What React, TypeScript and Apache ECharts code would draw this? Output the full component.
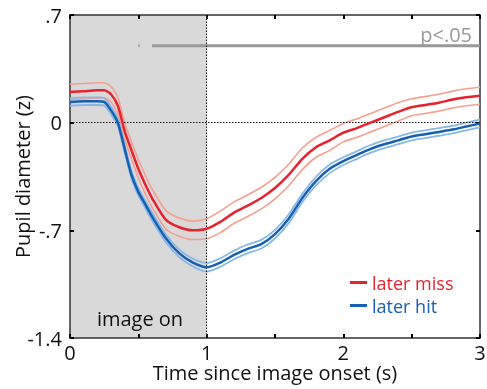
import React, { useEffect, useRef } from "react";
import * as echarts from "echarts";

const times = [0, 0.1, 0.2, 0.25, 0.3, 0.35, 0.4, 0.45, 0.5, 0.55, 0.6, 0.7, 0.8, 0.9, 1.0, 1.1, 1.2, 1.3, 1.4, 1.5, 1.6, 1.7, 1.8, 1.9, 2.0, 2.1, 2.2, 2.3, 2.4, 2.5, 2.6, 2.7, 2.8, 2.9, 3.0];

const missMean = [0.2, 0.205, 0.21, 0.21, 0.185, 0.11, -0.055, -0.18, -0.3, -0.4, -0.49, -0.63, -0.68, -0.7, -0.69, -0.645, -0.585, -0.54, -0.49, -0.425, -0.34, -0.235, -0.16, -0.115, -0.065, -0.035, 0.0, 0.035, 0.07, 0.1, 0.115, 0.13, 0.15, 0.165, 0.175];
const missSem = [0.05, 0.05, 0.05, 0.05, 0.05, 0.055, 0.055, 0.055, 0.06, 0.06, 0.06, 0.06, 0.06, 0.06, 0.065, 0.07, 0.07, 0.07, 0.07, 0.07, 0.07, 0.07, 0.065, 0.065, 0.06, 0.06, 0.06, 0.06, 0.06, 0.055, 0.055, 0.055, 0.055, 0.055, 0.055];

const hitMean = [0.135, 0.14, 0.14, 0.135, 0.08, 0.0, -0.17, -0.34, -0.45, -0.53, -0.61, -0.75, -0.85, -0.91, -0.94, -0.91, -0.86, -0.82, -0.79, -0.725, -0.625, -0.49, -0.38, -0.3, -0.25, -0.21, -0.17, -0.14, -0.115, -0.09, -0.075, -0.06, -0.045, -0.025, -0.005];
const hitSem = [0.025, 0.025, 0.025, 0.025, 0.025, 0.025, 0.025, 0.025, 0.025, 0.025, 0.025, 0.025, 0.025, 0.025, 0.028, 0.028, 0.028, 0.028, 0.028, 0.028, 0.028, 0.028, 0.028, 0.028, 0.025, 0.025, 0.025, 0.025, 0.025, 0.025, 0.025, 0.025, 0.025, 0.025, 0.025];

const sigStarts = [0.5, 0.6];
const sigEnds = [0.51, 3.0];
const sigLevel = 0.5;

const xTickLabels: Record<string, string> = { "0": "0", "1": "1", "2": "2", "3": "3" };
const yTickLabels: Record<string, string> = { "0.7": ".7", "0": "0", "-0.7": "-.7", "-1.4": "-1.4" };

const stimulusWindow = [0, 1];

const FONT = "Open Sans";
const RED = "#e8222c";
const RED_LIGHT = "#f5a08e";
const BLUE = "#1560b4";
const BLUE_LIGHT = "#8ab8e4";

export default function App() {
  const ref = useRef<HTMLDivElement>(null);
  useEffect(() => {
    if (!ref.current) return;
    const chart = echarts.init(ref.current, undefined, { renderer: "svg" });
    const pts = (vals: number[]) => times.map((t, i) => [t, vals[i]]);
    const band = (m: number[], s: number[], sign: number) => times.map((t, i) => [t, m[i] + sign * s[i]]);
    const sigData: any[] = [];
    sigStarts.forEach((s, i) => {
      if (i > 0) sigData.push([null, null]);
      sigData.push([s, sigLevel], [sigEnds[i], sigLevel]);
    });
    const lineBase = { type: "line", showSymbol: false, symbol: "none", smooth: 0.25, silent: true };
    const fmtY = (v: number) => {
      const k = String(Math.round(v * 10) / 10);
      return yTickLabels[k] ?? "";
    };
    const fmtX = (v: number) => xTickLabels[String(v)] ?? "";
    const mkLine = () => ({ show: true, onZero: false, lineStyle: { color: "#333", width: 1.5 } });
    const mkTick = () => ({ show: true, inside: true, length: 4, lineStyle: { color: "#000", width: 2 } });
    chart.setOption({
      animation: false,
      grid: { left: 70, right: 7, top: 15, bottom: 51, outerBoundsMode: "none", containLabel: false },
      legend: {
        orient: "vertical",
        left: 345,
        top: 267,
        itemWidth: 17,
        itemHeight: 3,
        itemGap: 2,
        icon: "rect",
        selectedMode: false,
        textStyle: { fontSize: 18, fontFamily: FONT, lineHeight: 21 },
        data: [
          { name: "later miss", textStyle: { color: RED } },
          { name: "later hit", textStyle: { color: BLUE } },
        ],
      },
      xAxis: [
        {
          type: "value",
          z: 3,
          min: 0,
          max: 3,
          interval: 0.5,
          name: "Time since image onset (s)",
          nameLocation: "middle",
          nameGap: 25,
          nameMoveOverlap: false,
          nameTextStyle: { fontSize: 20, fontFamily: FONT, color: "#111", lineHeight: 18 },
          axisLine: mkLine(),
          axisTick: mkTick(),
          axisLabel: { formatter: fmtX, fontSize: 20, fontFamily: FONT, color: "#111", margin: 6, lineHeight: 16 },
          splitLine: { show: false },
        },
        {
          type: "value",
          z: 3,
          position: "top",
          min: 0,
          max: 3,
          interval: 0.5,
          axisLine: mkLine(),
          axisTick: mkTick(),
          axisLabel: { show: false },
          splitLine: { show: false },
        },
      ],
      yAxis: [
        {
          type: "value",
          z: 3,
          min: -1.4,
          max: 0.7,
          interval: 0.7,
          name: "Pupil diameter (z)",
          nameLocation: "middle",
          nameGap: 38,
          nameMoveOverlap: false,
          nameTextStyle: { fontSize: 20, fontFamily: FONT, color: "#111" },
          axisLine: mkLine(),
          axisTick: mkTick(),
          axisLabel: { formatter: fmtY, fontSize: 20, fontFamily: FONT, color: "#111", margin: 8 },
          splitLine: { show: false },
        },
        {
          type: "value",
          z: 3,
          position: "right",
          min: -1.4,
          max: 0.7,
          interval: 0.7,
          axisLine: mkLine(),
          axisTick: mkTick(),
          axisLabel: { show: false },
          splitLine: { show: false },
        },
      ],
      graphic: [
        {
          type: "text",
          x: 472,
          y: 34,
          z: 10,
          silent: true,
          style: { text: "p<.05", fill: "#999", font: `20px "${FONT}"`, align: "right", verticalAlign: "middle" },
        },
        {
          type: "text",
          x: 140,
          y: 318,
          z: 10,
          silent: true,
          style: { text: "image on", fill: "#111", font: `20px "${FONT}"`, align: "center", verticalAlign: "middle" },
        },
      ],
      series: [
        {
          ...lineBase,
          name: "window",
          data: [],
          markArea: {
            silent: true,
            itemStyle: { color: "#d9d9d9" },
            data: [[{ xAxis: stimulusWindow[0] }, { xAxis: stimulusWindow[1] }]],
          },
          markLine: {
            silent: true,
            symbol: "none",
            label: { show: false },
            lineStyle: { color: "#111", type: [1.5, 1.5], width: 1 },
            data: [{ xAxis: stimulusWindow[1] }, { yAxis: 0 }],
          },
          z: 1,
        },
        {
          ...lineBase,
          name: "sig",
          smooth: false,
          connectNulls: false,
          data: sigData,
          lineStyle: { color: "#999", width: 3 },
          z: 3,
        },
        { ...lineBase, name: "miss upper", data: band(missMean, missSem, 1), lineStyle: { color: RED_LIGHT, width: 1.6 }, z: 4 },
        { ...lineBase, name: "miss lower", data: band(missMean, missSem, -1), lineStyle: { color: RED_LIGHT, width: 1.6 }, z: 4 },
        { ...lineBase, name: "later miss", data: pts(missMean), lineStyle: { color: RED, width: 2.5 }, itemStyle: { color: RED }, z: 5 },
        { ...lineBase, name: "hit upper", data: band(hitMean, hitSem, 1), lineStyle: { color: BLUE_LIGHT, width: 1.8 }, z: 4 },
        { ...lineBase, name: "hit lower", data: band(hitMean, hitSem, -1), lineStyle: { color: BLUE_LIGHT, width: 1.8 }, z: 4 },
        { ...lineBase, name: "later hit", data: pts(hitMean), lineStyle: { color: BLUE, width: 2.5 }, itemStyle: { color: BLUE }, z: 5 },
      ],
    });
    return () => chart.dispose();
  }, []);
  return <div ref={ref} style={{ position: "fixed", left: 0, top: 0, width: 487, height: 389 }} />;
}
